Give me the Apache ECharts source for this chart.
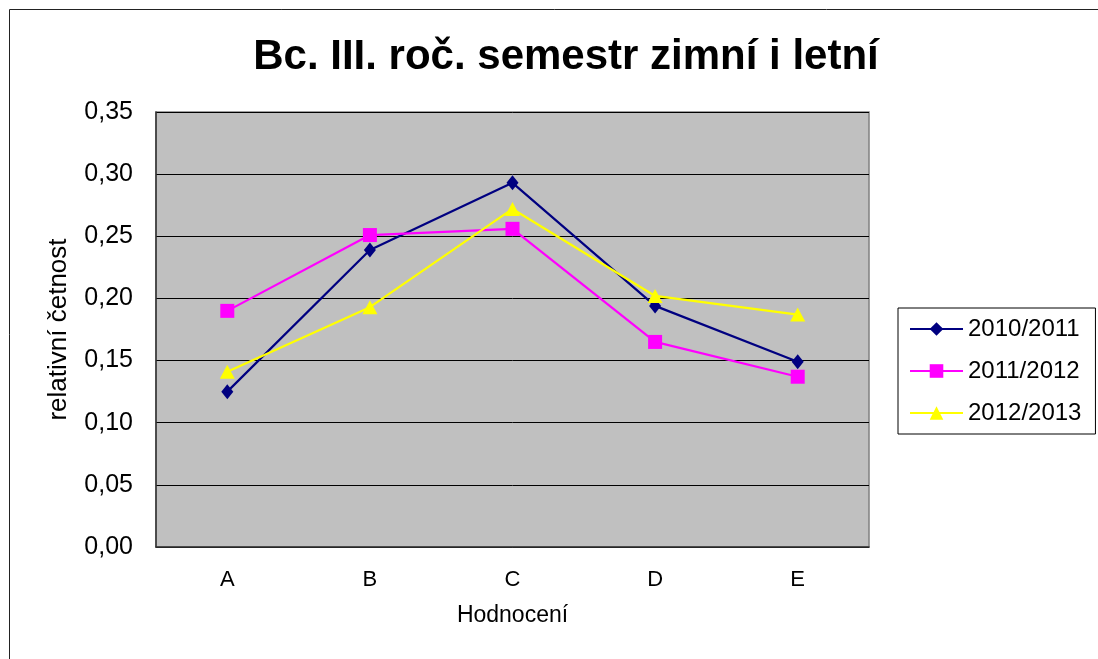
<!DOCTYPE html>
<html><head><meta charset="utf-8">
<script src="https://cdn.jsdelivr.net/npm/echarts@6/dist/echarts.min.js"></script>
<style>html,body{margin:0;padding:0;background:#fff}#c{width:1098px;height:659px}</style>
</head><body><div id="c"></div>
<script>
const categories = ['A','B','C','D','E'];
const seriesNames = ['2010/2011','2011/2012','2012/2013'];
const s2010 = [0.125, 0.239, 0.293, 0.194, 0.149];
const s2011 = [0.190, 0.251, 0.256, 0.165, 0.137];
const s2012 = [0.141, 0.193, 0.272, 0.202, 0.187];
const yTicks = [0, 0.05, 0.10, 0.15, 0.20, 0.25, 0.30, 0.35];

const chart = echarts.init(document.getElementById('c'));
const font = 'Liberation Sans, Arial, sans-serif';
chart.setOption({
  backgroundColor: '#fff',
  animation: false,
  title: {
    text: 'Bc. III. roč. semestr zimní i letní',
    left: 561, top: 31, textAlign: 'center',
    textStyle: {fontFamily: font, fontWeight: 'bold', fontSize: 42, color: '#000'}
  },
  graphic: [{
    type: 'rect', shape: {x: 9.5, y: 9.5, width: 1200, height: 700},
    style: {fill: 'none', stroke: '#222', lineWidth: 1}, silent: true
  }],
  legend: {
    orient: 'vertical', left: 898, top: 308,
    padding: [9, 14, 9, 11],
    borderColor: '#000', borderWidth: 1, backgroundColor: '#fff', borderRadius: 0,
    itemWidth: 53, itemHeight: 17, itemGap: 18,
    textStyle: {fontFamily: font, fontSize: 24, color: '#000'},
    data: seriesNames
  },
  grid: {left: 156, top: 112, width: 713, height: 435, show: true, backgroundColor: '#c0c0c0', borderColor: '#808080', borderWidth: 1.5},
  xAxis: {
    type: 'category', data: categories, boundaryGap: true,
    name: 'Hodnocení', nameLocation: 'middle', nameGap: 57,
    nameTextStyle: {fontFamily: font, fontSize: 23, color: '#000'},
    axisLine: {lineStyle: {color: '#333', width: 1.5}},
    axisTick: {show: false},
    axisLabel: {fontFamily: font, fontSize: 22, color: '#000', margin: 22}
  },
  yAxis: {
    type: 'value', min: 0, max: 0.35, interval: 0.05,
    name: 'relativní četnost', nameLocation: 'middle', nameGap: 84, nameRotate: 90,
    nameTextStyle: {fontFamily: font, fontSize: 26, color: '#000'},
    axisLine: {show: true, lineStyle: {color: '#333', width: 1.5}},
    axisTick: {show: false},
    axisLabel: {fontFamily: font, fontSize: 25, color: '#000', margin: 23,
      formatter: v => { const t = yTicks.find(x => Math.abs(x - v) < 1e-9); return (t !== undefined ? t : v).toFixed(2).replace('.', ','); }},
    splitLine: {lineStyle: {color: '#000', width: 1}}
  },
  series: [
    {name: seriesNames[0], type: 'line', data: s2010, color: '#000080',
     symbol: 'diamond', symbolSize: [12, 15], lineStyle: {width: 2.2}},
    {name: seriesNames[1], type: 'line', data: s2011, color: '#ff00ff',
     symbol: 'rect', symbolSize: 14, lineStyle: {width: 2.2}},
    {name: seriesNames[2], type: 'line', data: s2012, color: '#ffff00',
     symbol: 'triangle', symbolSize: [15, 14], lineStyle: {width: 2.2}}
  ]
});
</script></body></html>
